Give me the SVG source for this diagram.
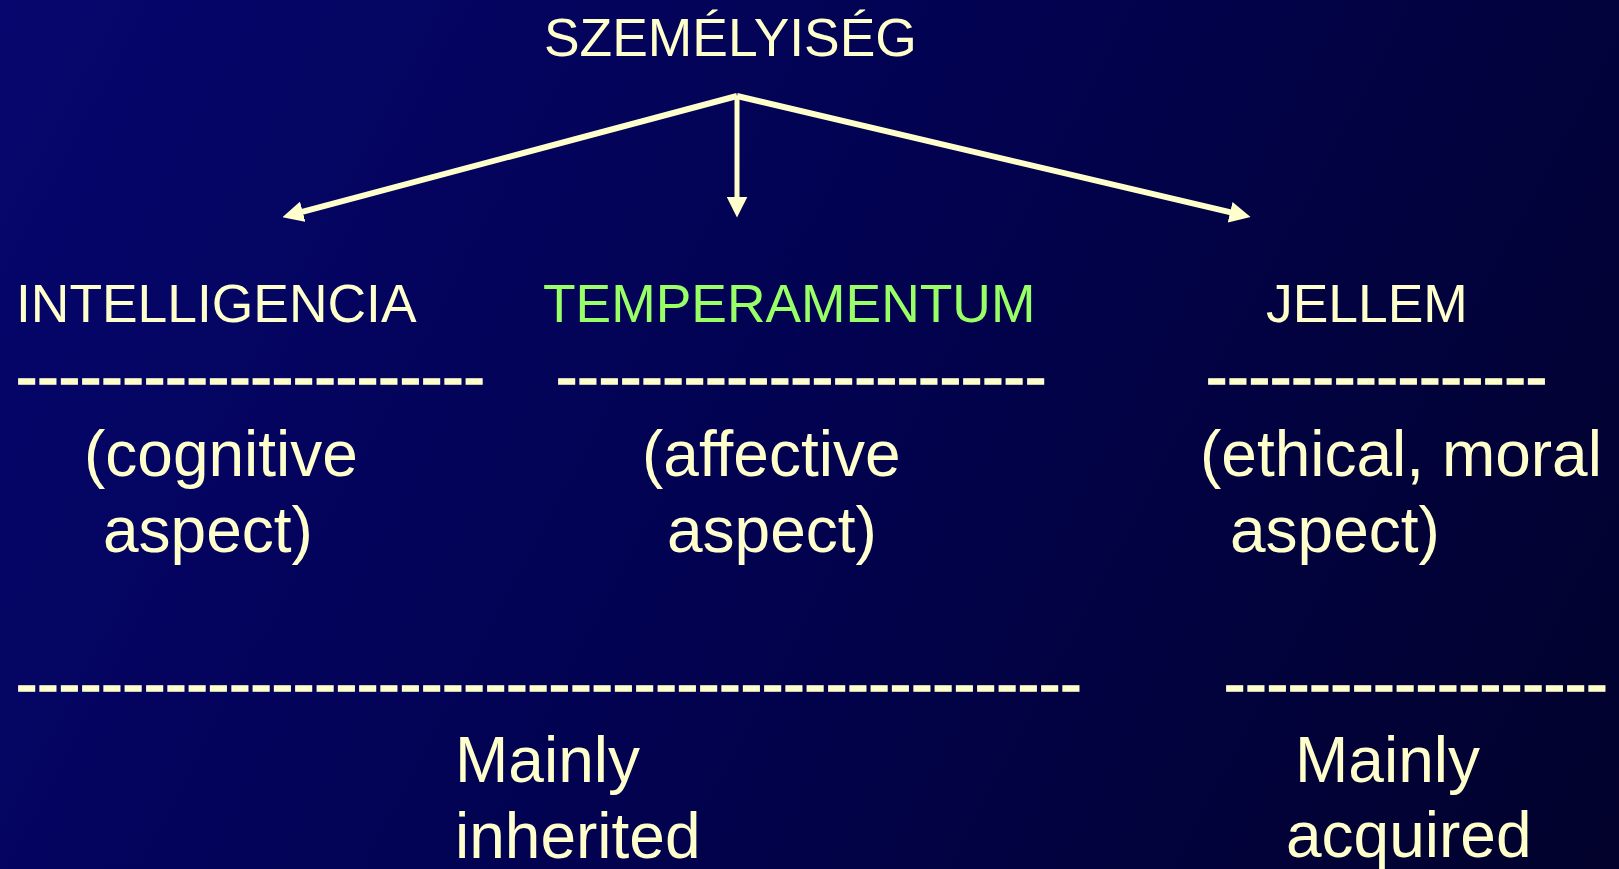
<svg xmlns="http://www.w3.org/2000/svg" width="1619" height="869" viewBox="0 0 1619 869">
  <style>
    text { font-family: "Liberation Sans", Arial, sans-serif; fill: #FFFFCC; }
    .title { font-size: 53.4px; }
    .body { font-size: 64px; }
    .rule { font-size: 64px; stroke: #FFFFCC; stroke-width: 1.4px; }
    .green { fill: #99FF66; }
    .link { fill: none; stroke: #FFFFCC; stroke-linecap: butt; }
  </style>
  <defs>
    <linearGradient id="bg" gradientUnits="userSpaceOnUse" x1="0" y1="0" x2="1619" y2="869">
      <stop offset="0" stop-color="#06066E"/>
      <stop offset="0.5" stop-color="#020250"/>
      <stop offset="1" stop-color="#02022C"/>
    </linearGradient>
    <marker id="head" markerUnits="userSpaceOnUse" markerWidth="21" markerHeight="21"
            viewBox="0 0 20 20" refX="8" refY="10" orient="auto">
      <path d="M0,0 L20,10 L0,20 z" fill="#FFFFCC"/>
    </marker>
  </defs>

  <rect width="1619" height="869" fill="url(#bg)"/>

  <!-- root -->
  <g id="node-szemelyiseg">
    <text class="title" x="544" y="56">SZEMÉLYISÉG</text>
  </g>

  <!-- arrows from the root to the three components -->
  <g id="connectors">
    <line class="link" x1="737" y1="96" x2="294.6" y2="213.9" stroke-width="6" stroke-linecap="round" marker-end="url(#head)"/>
    <line class="link" x1="737" y1="96" x2="737" y2="205" stroke-width="5" marker-end="url(#head)"/>
    <line class="link" x1="737" y1="96" x2="1238.3" y2="214.2" stroke-width="6" stroke-linecap="round" marker-end="url(#head)"/>
  </g>

  <g id="node-intelligencia">
    <text class="title" x="16" y="322">INTELLIGENCIA</text>
    <text class="rule" x="16" y="399">----------------------</text>
    <text class="body" x="84" y="476">(cognitive</text>
    <text class="body" x="103" y="552">aspect)</text>
  </g>

  <g id="node-temperamentum">
    <text class="title green" x="543" y="322">TEMPERAMENTUM</text>
    <text class="rule" x="556" y="399">-----------------------</text>
    <text class="body" x="642" y="476">(affective</text>
    <text class="body" x="667" y="552">aspect)</text>
  </g>

  <g id="node-jellem">
    <text class="title" x="1266" y="322">JELLEM</text>
    <text class="rule" x="1206" y="399">----------------</text>
    <text class="body" x="1200" y="476">(ethical, moral</text>
    <text class="body" x="1230" y="552">aspect)</text>
  </g>

  <g id="node-inherited">
    <text class="rule" x="16" y="706">--------------------------------------------------</text>
    <text class="body" x="455" y="782">Mainly</text>
    <text class="body" x="455" y="858">inherited</text>
  </g>

  <g id="node-acquired">
    <text class="rule" x="1224" y="706">------------------</text>
    <text class="body" x="1295" y="782">Mainly</text>
    <text class="body" x="1286" y="857">acquired</text>
  </g>
</svg>
